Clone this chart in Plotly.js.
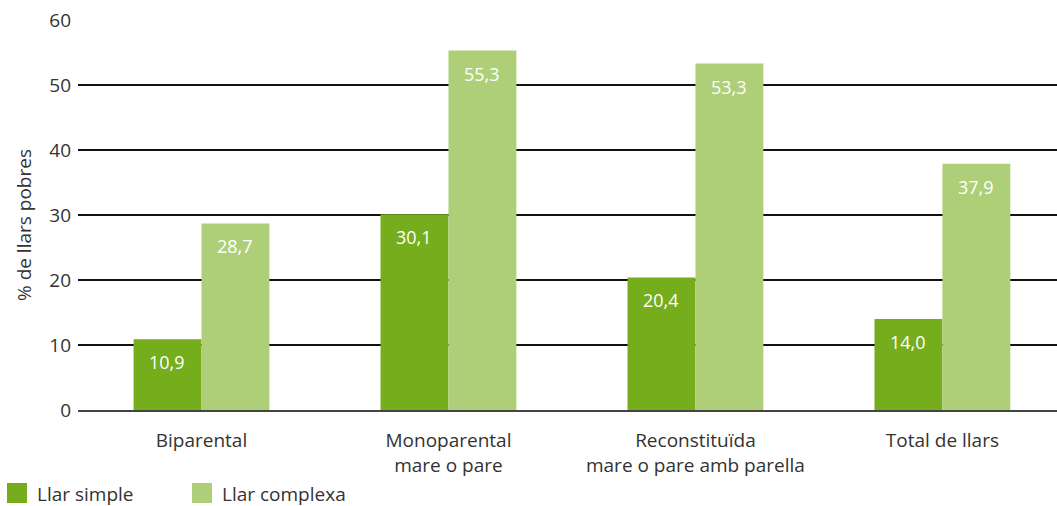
<!DOCTYPE html>
<html>
<head>
<meta charset="utf-8">
<script src="https://cdn.plot.ly/plotly-3.0.1.min.js"></script>
<style>html,body{margin:0;padding:0;background:#fff;}#chart{width:1057px;height:506px;}</style>
</head>
<body>
<div id="chart"></div>
<script>
const categories = ["Biparental", "Monoparental<br>mare o pare", "Reconstituïda<br>mare o pare amb parella", "Total de llars"];
const simpleValues = [10.9, 30.1, 20.4, 14.0];
const complexValues = [28.7, 55.3, 53.3, 37.9];
const seriesNames = ["Llar simple", "Llar complexa"];
const yTicks = [0, 10, 20, 30, 40, 50, 60];
const yTitle = "% de llars pobres";

const darkGreen = "#76ad1d";
const lightGreen = "#aecf78";
const seriesColors = [darkGreen, lightGreen];
const fontFam = "'Open Sans', Roboto, sans-serif";
const textColor = "#333";

const fmt = v => v.toFixed(1).replace(".", ",");

const traces = [
  {type: "bar", name: seriesNames[0], x: categories, y: simpleValues, marker: {color: darkGreen}, hoverinfo: "skip", showlegend: false},
  {type: "bar", name: seriesNames[1], x: categories, y: complexValues, marker: {color: lightGreen}, hoverinfo: "skip", showlegend: false}
];

const annotations = [];
categories.forEach((c, i) => {
  annotations.push({x: c, y: simpleValues[i], xref: "x", yref: "y", text: fmt(simpleValues[i]), showarrow: false, xshift: -34, yshift: -23, font: {family: fontFam, size: 18, color: "#ffffff"}});
  annotations.push({x: c, y: complexValues[i], xref: "x", yref: "y", text: fmt(complexValues[i]), showarrow: false, xshift: 34, yshift: -23, font: {family: fontFam, size: 18, color: "#ffffff"}});
});

// y-axis title
annotations.push({xref: "paper", yref: "paper", x: (24 - 78) / 979, y: (410 - 225) / 390,
  xanchor: "center", yanchor: "middle", textangle: -90, text: yTitle, showarrow: false,
  font: {family: fontFam, size: 19, color: textColor}});

// custom legend (paper/pixel based)
const legendX = [7, 192];
const shapes = [];
seriesNames.forEach((n, i) => {
  shapes.push({type: "rect", xref: "paper", yref: "paper", xsizemode: "pixel", ysizemode: "pixel",
    xanchor: -78/979, yanchor: -96/390, x0: legendX[i], x1: legendX[i] + 20, y0: 3, y1: 23,
    fillcolor: seriesColors[i], line: {width: 0}});
  annotations.push({xref: "paper", yref: "paper", x: (legendX[i] + 28 - 78) / 979, y: (-96 + 12) / 390,
    xanchor: "left", yanchor: "middle", text: n, showarrow: false,
    font: {family: fontFam, size: 19, color: textColor}});
});

const layout = {
  width: 1057, height: 506,
  margin: {l: 78, r: 0, t: 20, b: 96},
  paper_bgcolor: "#fff", plot_bgcolor: "#fff",
  barmode: "group", bargap: 0.45, bargroupgap: 0,
  font: {family: fontFam, size: 19, color: textColor},
  xaxis: {
    type: "category", range: [-0.5, 3.464], showgrid: false,
    showline: true, linecolor: "#444", linewidth: 2, layer: "above traces", zeroline: false,
    ticks: "", ticklabelstandoff: 12, tickfont: {family: fontFam, size: 19, color: textColor}
  },
  yaxis: {
    range: [0, 60], tickvals: yTicks, ticktext: yTicks.map(String),
    showgrid: true, gridcolor: "#111", gridwidth: 1.5,
    zeroline: false, showline: false, ticks: "", ticklabelstandoff: 6,
    tickfont: {family: fontFam, size: 19, color: textColor}
  },
  showlegend: false,
  shapes: shapes,
  annotations: annotations
};

Plotly.newPlot("chart", traces, layout, {displayModeBar: false, staticPlot: true});
</script>
</body>
</html>
